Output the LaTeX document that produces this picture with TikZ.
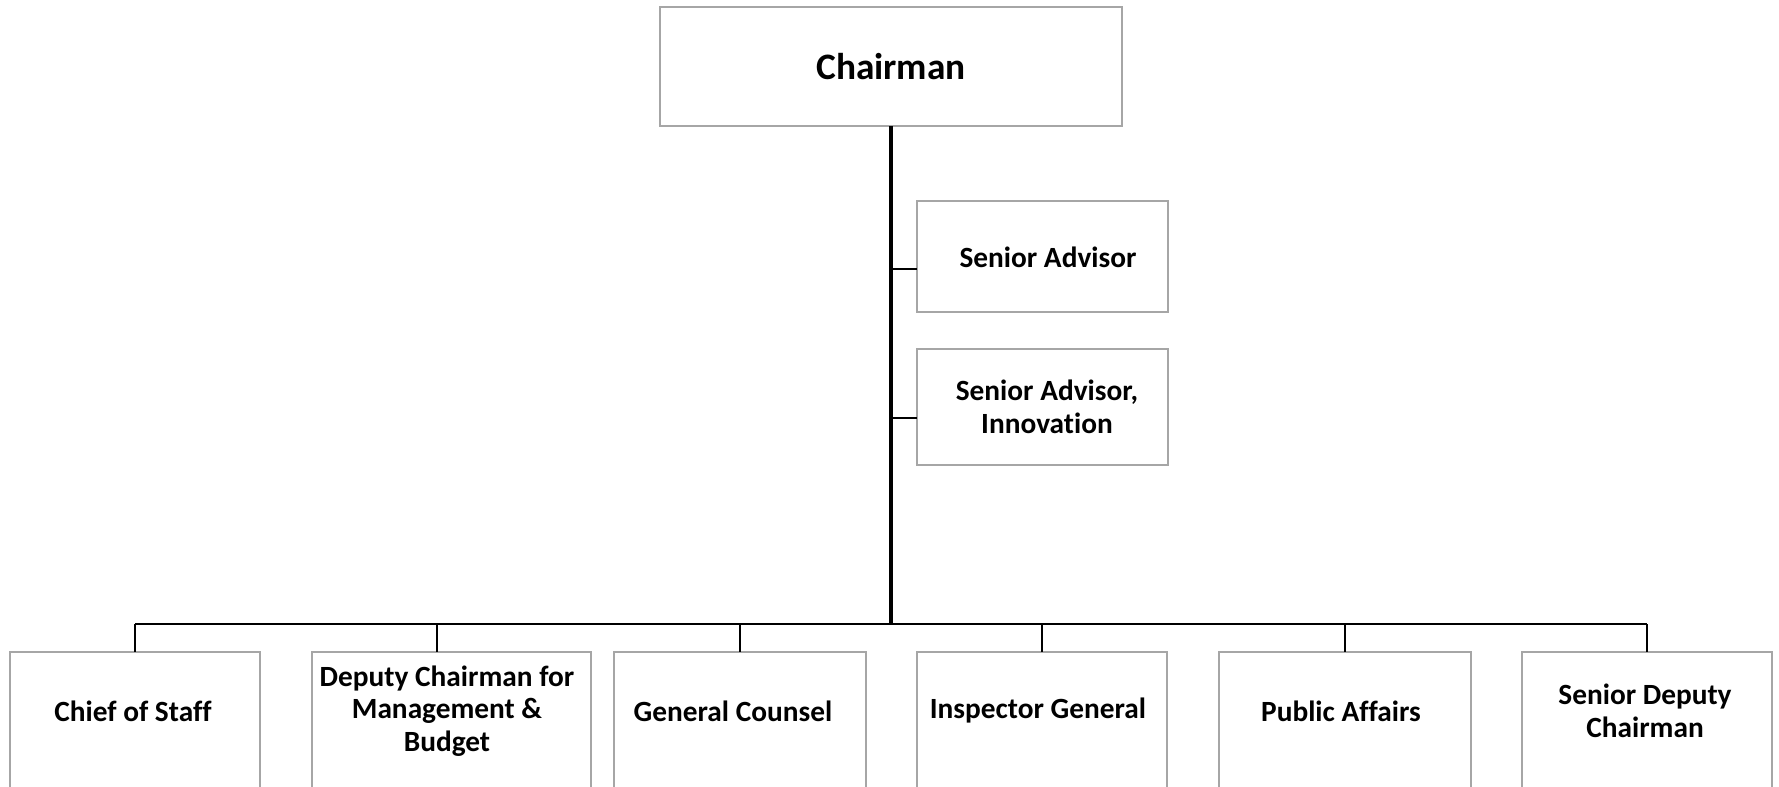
\documentclass[tikz,border=0pt]{standalone}
\usepackage{fontspec}
\setmainfont{Carlito}[Ligatures=NoCommon]
\usetikzlibrary{positioning}

\begin{document}
\begin{tikzpicture}[x=0.75pt, y=-0.75pt] % 1 unit = 1 pixel of the 1779x786 picture
\tikzstyle{every node} = [inner sep=0pt, outer sep=0pt, align=center]
\tikzstyle{box} = [draw=gray!70, line width=1.1pt, fill=white]
\tikzstyle{lowbox} = [box, anchor=north, minimum height=112.5pt]
\tikzstyle{txt} = [font=\bfseries\fontsize{22}{24.5}\selectfont]
\tikzstyle{drop} = [line width=1.5pt]
\clip (0,0) rectangle (1779,786);
% top of the chart
\node[box, txt, minimum width=346.5pt, minimum height=89.25pt,
  font=\bfseries\fontsize{28}{30}\selectfont] (chair) at (891,66.5) {Chairman};
\node[box, minimum width=188.25pt, minimum height=83.25pt] (sa) at (1042.5,256.5) {};
\node[txt] (sa-t) at (1048,257) {Senior Advisor};
\node[box, minimum width=188.25pt, minimum height=87pt] (sai) at (1042.5,407) {};
\node[txt] (sai-t) at (1047,407) {Senior Advisor,\\Innovation};
\coordinate (hub) at (891,624);
\coordinate (t1) at (891,269);
\coordinate (t2) at (891,418);
\draw[line width=3pt] (chair.south) -- (hub);
\foreach \t/\b in {t1/sa, t2/sai}
\draw[drop] (\t) -- (\t -| \b.west);
% offices below
\foreach \nm/\cx/\w/\dx/\tx/\label in {cos/135/187.5pt/135/133/{Chief of Staff},
  dcm/451.5/209.25pt/437/447/{Deputy Chairman for\\Management \&\\Budget},
  gc/740/189pt/740/733/{General Counsel},
  ig/1042/187.5pt/1042/1038/{Inspector General},
  pa/1345/189pt/1345/1341/{Public Affairs},
  sdc/1647/187.5pt/1647/1645/{Senior Deputy\\Chairman}}
{
\node[lowbox, minimum width=\w] (\nm) at (\cx,652) {};
\node[txt] (\nm-t) at (\tx,711) {\label};
\coordinate (\nm-d) at (\dx,624);
\draw[drop] (\nm-d) -- (\nm-d |- \nm.north);
}
\draw[line width=2.2pt] (cos-d) -- (sdc-d);
\end{tikzpicture}
\end{document}
